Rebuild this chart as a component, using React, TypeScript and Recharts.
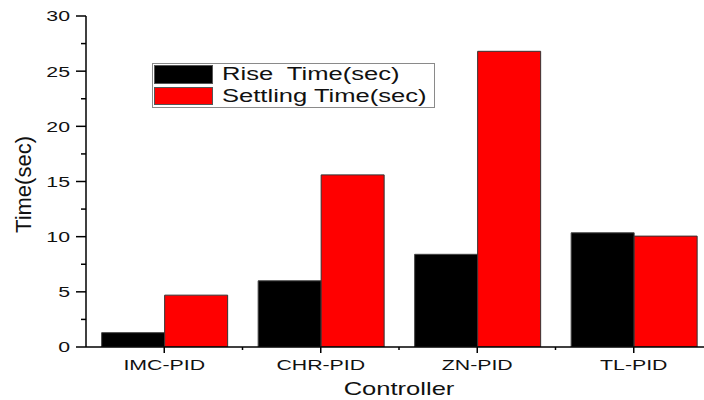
import React from 'react';
import { BarChart, Bar, XAxis, YAxis, Legend } from 'recharts';

const categories = ['IMC-PID', 'CHR-PID', 'ZN-PID', 'TL-PID'];
const riseTime = [1.3, 6.0, 8.4, 10.35];
const settlingTime = [4.7, 15.6, 26.8, 10.05];
const yTicks = [0, 2.5, 5, 7.5, 10, 12.5, 15, 17.5, 20, 22.5, 25, 27.5, 30];
const yLabelStep = 5;
const seriesNames = ['Rise  Time(sec)', 'Settling Time(sec)'];
const seriesColors = ['#000000', '#ff0000'];

const data = categories.map((c, i) => ({ name: c, rise: riseTime[i], settling: settlingTime[i] }));

const FONT = '"Liberation Sans", Arial, Helvetica, sans-serif';
const SX = 1.42;
const AXIS_STROKE = { stroke: '#000', strokeWidth: 1.5 };

const YTick = (props: any) => {
  const { x, y, payload } = props;
  const major = payload.value % yLabelStep === 0;
  const len = major ? 10 : 5;
  return (
    <g>
      <line x1={x - len} y1={y} x2={x} y2={y} stroke="#000" strokeWidth={1.5} />
      {major && (
        <g transform={`translate(${x - 16},${y}) scale(${SX},1)`}>
          <text x={0} y={0} dy="0.36em" textAnchor="end" fontSize={15} fontFamily={FONT} fill="#111">
            {payload.value}
          </text>
        </g>
      )}
    </g>
  );
};

const XTick = (props: any) => {
  const { x, y, payload, index, width, visibleTicksCount } = props;
  const band = width / visibleTicksCount;
  return (
    <g>
      <line x1={x} y1={y} x2={x} y2={y + 6} stroke="#000" strokeWidth={1.5} />
      {index > 0 && (
        <line x1={x - band / 2} y1={y} x2={x - band / 2} y2={y + 3} stroke="#000" strokeWidth={1.5} />
      )}
      <g transform={`translate(${x},${y + 12}) scale(${SX},1)`}>
        <text x={0} y={0} dy="0.71em" textAnchor="middle" fontSize={15} fontFamily={FONT} fill="#111">
          {payload.value}
        </text>
      </g>
    </g>
  );
};

const XTitle = (props: any) => {
  const vb = props.viewBox || {};
  const cx = vb.x + vb.width / 2;
  const by = vb.y + vb.height - 5;
  return (
    <g transform={`translate(${cx},${by}) scale(${SX},1)`}>
      <text x={0} y={0} textAnchor="middle" fontSize={18} fontFamily={FONT} fill="#111">
        Controller
      </text>
    </g>
  );
};

const YTitle = (props: any) => {
  const vb = props.viewBox || {};
  const cy = vb.y + vb.height / 2 + 3;
  return (
    <g transform={`translate(31,${cy}) rotate(-90)`}>
      <text x={0} y={0} textAnchor="middle" fontSize={22} fontFamily={FONT} fill="#111">
        Time(sec)
      </text>
    </g>
  );
};

const LegendBox = () => (
  <div
    style={{
      position: 'relative',
      width: 283,
      height: 45,
      boxSizing: 'border-box',
      border: '1px solid #8a8a8a',
      background: '#fff',
      fontFamily: FONT,
    }}
  >
    {seriesNames.map((n, i) => (
      <React.Fragment key={n}>
        <div
          style={{
            position: 'absolute',
            left: 1,
            top: i === 0 ? 1 : 23,
            width: 59,
            height: i === 0 ? 19 : 18,
            boxSizing: 'border-box',
            background: seriesColors[i],
            border: '1px solid #555',
          }}
        />
        <span
          style={{
            position: 'absolute',
            left: 69,
            top: i === 0 ? 0 : 21.5,
            fontSize: 18,
            lineHeight: '21px',
            whiteSpace: 'pre',
            color: '#111',
            transform: `scaleX(${SX})`,
            transformOrigin: 'left center',
          }}
        >
          {n}
        </span>
      </React.Fragment>
    ))}
  </div>
);

export default function App() {
  return (
    <div style={{ position: 'fixed', left: 0, top: 0, width: 704, height: 400, overflow: 'hidden', background: '#fff' }}>
      <BarChart
        width={720}
        height={400}
        data={data}
        margin={{ top: 16, right: 8, bottom: 0, left: 0 }}
        barCategoryGap="10%"
        barGap={0}
      >
        <XAxis
          dataKey="name"
          height={53}
          axisLine={AXIS_STROKE}
          tickLine={false}
          tickSize={0}
          tickMargin={0}
          tick={XTick}
          interval={0}
          label={<XTitle />}
        />
        <YAxis
          type="number"
          domain={[0, 30]}
          ticks={yTicks}
          allowDataOverflow
          width={86}
          axisLine={AXIS_STROKE}
          tickLine={false}
          tickSize={0}
          tickMargin={0}
          tick={YTick}
          interval={0}
          label={<YTitle />}
        />
        <Legend
          layout="horizontal"
          verticalAlign="middle"
          align="center"
          content={LegendBox}
          wrapperStyle={{ position: 'absolute', left: 152, top: 63, width: 283, height: 45 }}
        />
        <Bar
          dataKey="rise"
          name={seriesNames[0]}
          fill={seriesColors[0]}
          stroke="#444"
          strokeWidth={1}
          isAnimationActive={false}
        />
        <Bar
          dataKey="settling"
          name={seriesNames[1]}
          fill={seriesColors[1]}
          stroke="#333"
          strokeWidth={1}
          isAnimationActive={false}
        />
      </BarChart>
    </div>
  );
}
